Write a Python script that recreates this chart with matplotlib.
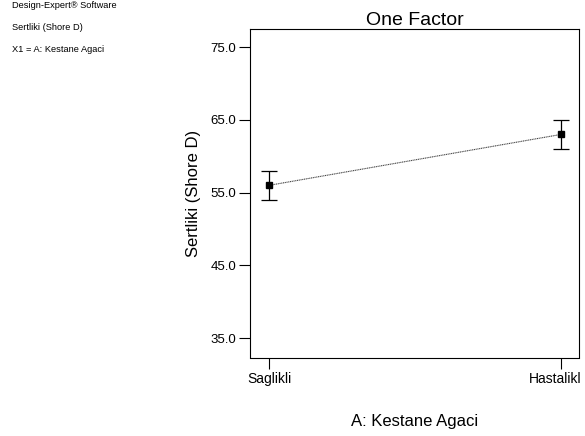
import matplotlib
matplotlib.use("Agg")
import matplotlib.pyplot as plt
import matplotlib.transforms as mtransforms

plt.rcParams['font.family'] = ['Liberation Sans', 'DejaVu Sans']

# data
levels = ["Saglikli", "Hastalikl"]
means = [56.0, 63.0]
lsd = [1.95, 2.0]
yticks = [35.0, 45.0, 55.0, 65.0, 75.0]

fig = plt.figure(figsize=(5.85, 4.36), dpi=100)
ax = fig.add_axes([250/585, 1-357/436, 329/585, 328/436])

xs = list(range(len(levels)))
ax.plot(xs, means, linestyle=(0, (1, 0.6)), color='#444444', linewidth=0.8)
ax.errorbar(xs, means, yerr=lsd, fmt='none', ecolor='black', elinewidth=0.9,
            capsize=6, capthick=0.9)
ax.plot(xs, means, 's', color='black', markersize=5)

ax.set_xlim(-0.065, 1.062)
ax.set_ylim(32.4, 77.5)
ax.set_yticks(yticks)
ax.set_yticklabels(["%.1f" % v for v in yticks], fontsize=9.5)
ax.set_xticks(xs)
ax.set_xticklabels(levels, fontsize=9)
ax.tick_params(axis='y', length=8, width=0.8, pad=2)
ax.tick_params(axis='x', length=8, width=0.8, pad=2)
ax.spines['bottom'].set_position(('outward', 1))
for s in ax.spines.values():
    s.set_linewidth(0.8)

# last label sits a bit left of its tick, as in the original
lab = ax.get_xticklabels()[-1]
lab.set_transform(lab.get_transform() + mtransforms.ScaledTranslation(-6/100, 0, fig.dpi_scale_trans))

ax.set_title("One Factor", fontsize=14, pad=1)
ax.set_ylabel("Sertliki (Shore D)", fontsize=12, labelpad=7)
ax.set_xlabel("A: Kestane Agaci", fontsize=12, labelpad=20)

fig.text(12/585, 1-6/436, "Design-Expert® Software", fontsize=6.7, va='center')
fig.text(12/585, 1-27/436, "Sertliki (Shore D)", fontsize=6.7, va='center')
fig.text(12/585, 1-49/436, "X1 = A: Kestane Agaci", fontsize=6.7, va='center')

fig.savefig("out.png", dpi=100)
